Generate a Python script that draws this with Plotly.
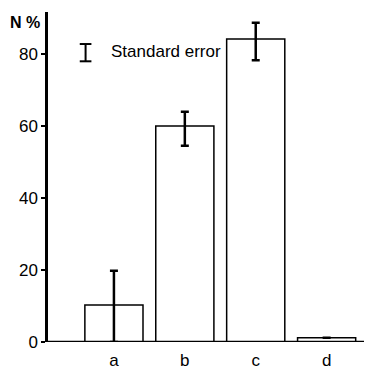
import plotly.graph_objects as go

categories = ["a", "b", "c", "d"]
values = [10.3, 60.0, 84.2, 1.2]
err_plus = [9.5, 4.0, 4.5, 0.0]
err_minus = [10.3, 5.5, 5.9, 0.0]
y_ticks = [0, 20, 40, 60, 80]

FONT = "Arial, Liberation Sans, Helvetica, sans-serif"

fig = go.Figure()
fig.add_trace(go.Bar(
    x=categories, y=values,
    marker=dict(color="white", line=dict(color="black", width=1.5)),
    error_y=dict(type="data", symmetric=False, array=err_plus, arrayminus=err_minus,
                 color="black", thickness=2.5, width=4),
    width=0.82,
))

# legend symbol for standard error
fig.add_shape(type="line", xref="paper", yref="y", x0=0.116, x1=0.116, y0=78.0, y1=82.8,
              line=dict(color="black", width=2))
fig.add_shape(type="line", xref="paper", yref="y", x0=0.098, x1=0.134, y0=82.8, y1=82.8,
              line=dict(color="black", width=2))
fig.add_shape(type="line", xref="paper", yref="y", x0=0.098, x1=0.134, y0=78.0, y1=78.0,
              line=dict(color="black", width=2))
fig.add_annotation(xref="paper", yref="y", x=0.188, y=80.6, xanchor="left", yanchor="middle",
                   text="Standard error", showarrow=False,
                   font=dict(family=FONT, size=17, color="black"))
fig.add_annotation(xref="paper", yref="y", x=-0.018, y=88.9, xanchor="right", yanchor="middle",
                   text="<b>N %</b>", showarrow=False,
                   font=dict(family=FONT, size=16, color="black"))

# page body has an 8px margin, so the figure is shrunk/offset to compensate
fig.update_layout(
    width=364, height=361,
    margin=dict(l=40, r=0, t=4, b=27),
    paper_bgcolor="white", plot_bgcolor="white",
    showlegend=False,
    font=dict(family=FONT, size=17, color="black"),
    xaxis=dict(range=[-0.93, 3.64], showgrid=False, zeroline=False,
               showline=False, ticks="", tickfont=dict(size=17),
               ticklabelstandoff=6),
    yaxis=dict(range=[0, 91.7], showgrid=False, zeroline=False,
               showline=True, linecolor="black", linewidth=2.5,
               ticks="outside", ticklen=4, tickwidth=1.5, tickcolor="black",
               tickvals=y_ticks, tickfont=dict(size=17)),
)
# x-axis baseline
fig.add_shape(type="line", xref="paper", yref="y", x0=0, x1=1, y0=0, y1=0,
              line=dict(color="black", width=2.5))

fig.write_html("out.html")
